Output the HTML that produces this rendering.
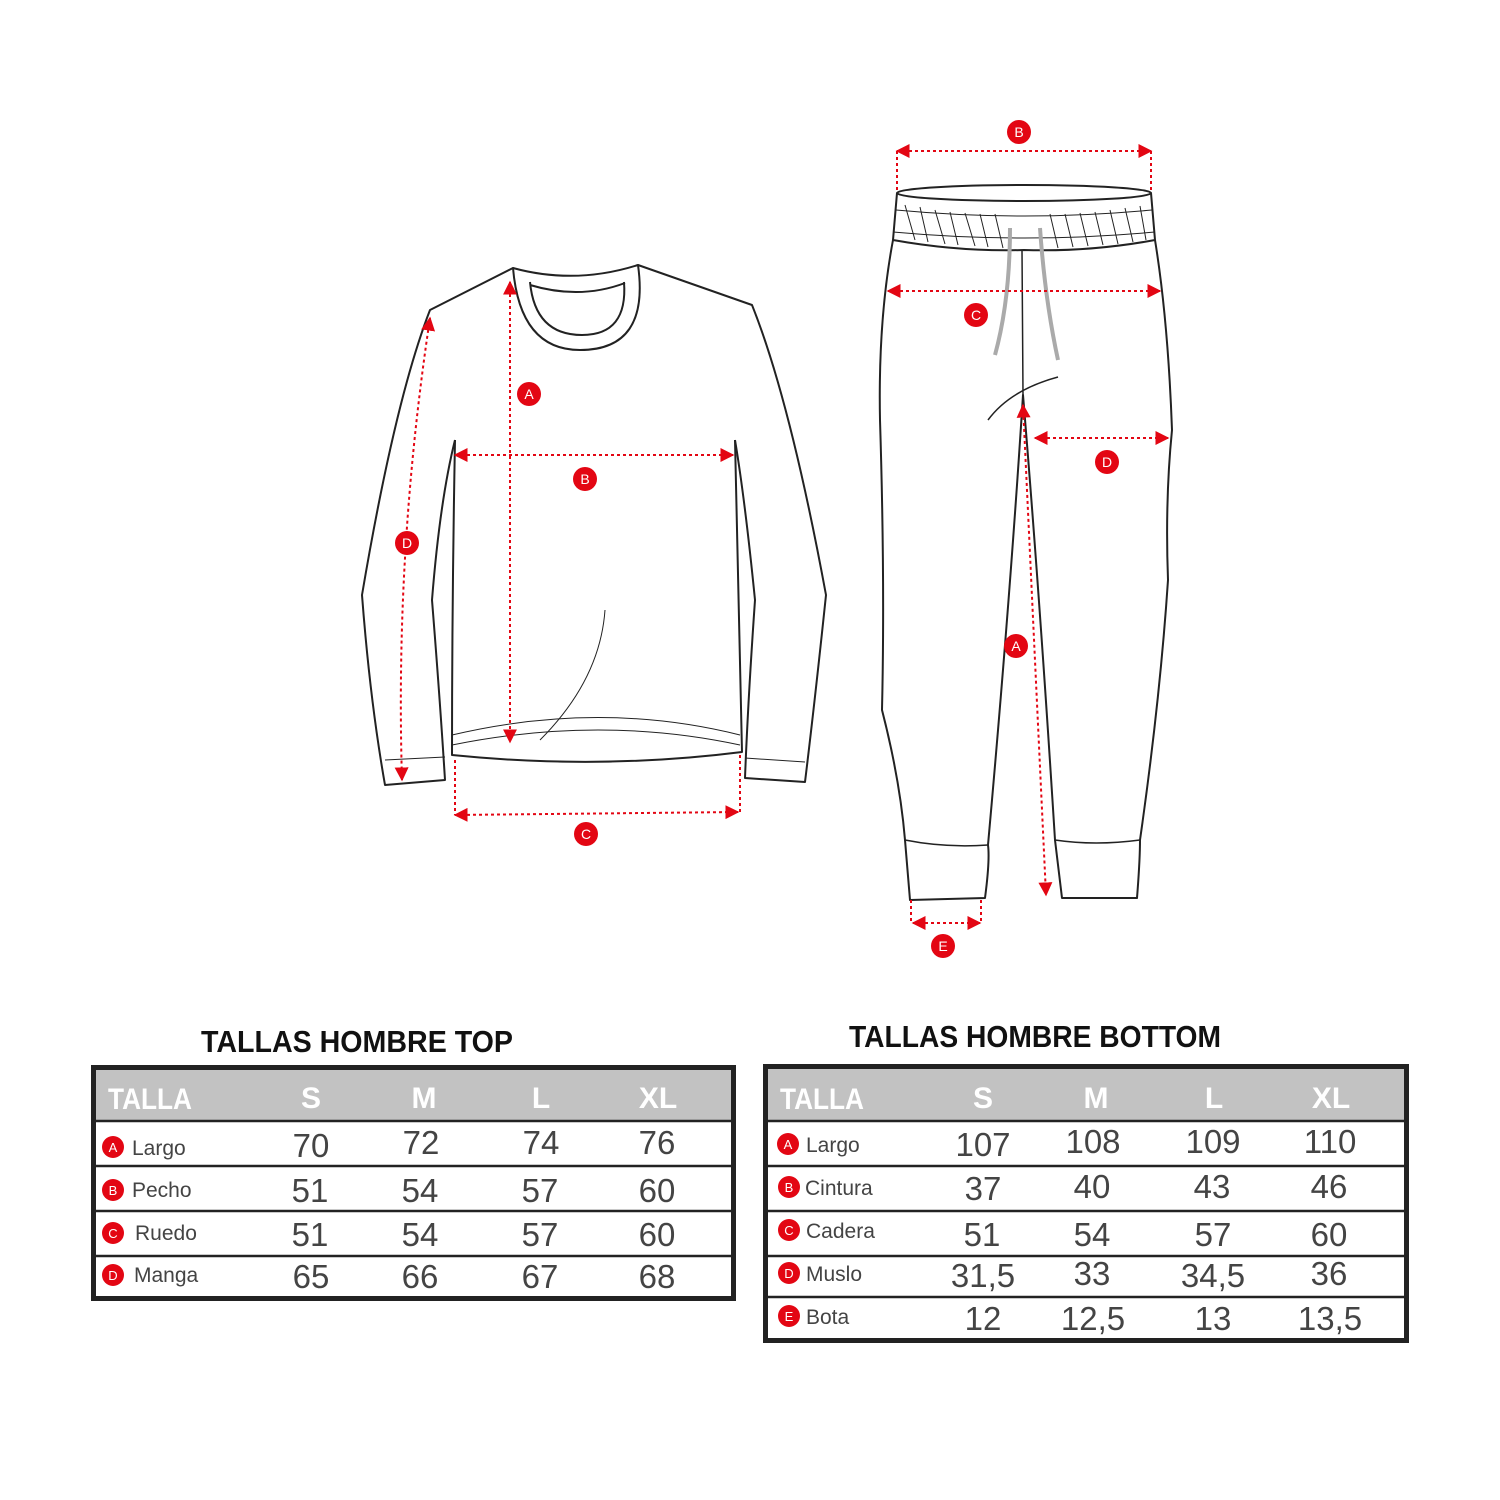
<!DOCTYPE html>
<html><head><meta charset="utf-8"><style>
html,body{margin:0;padding:0;background:#fff}
svg{display:block}
text{font-family:"Liberation Sans",sans-serif}
</style></head><body>
<svg width="1500" height="1500" viewBox="0 0 1500 1500" xmlns="http://www.w3.org/2000/svg">
<defs>
<marker id="ar" viewBox="0 0 10 10" refX="9" refY="5" markerWidth="7" markerHeight="7" orient="auto-start-reverse"><path d="M0,0 L10,5 L0,10 z" fill="#e30613"/></marker>
</defs>
<g fill="none" stroke="#222" stroke-width="2" stroke-linejoin="round">
<path d="M513,268 L430,310 Q395,400 362,595 Q370,700 385,785 L445,780 Q440,700 432,600 Q440,500 455,440"/>
<path d="M638,265 L752,305 Q790,400 826,595 Q815,700 805,782 L745,778 Q748,700 755,600 Q745,500 735,440"/>
<path d="M455,440 Q452,600 452,755 Q600,770 742,752 Q738,600 735,440"/>
<path d="M513,268 Q520,350 580,350 Q650,350 638,265 Q575,285 513,268 Z"/>
<path d="M530,282 Q535,335 582,335 Q628,335 624,282"/>
<path d="M530,285 Q580,300 625,283" />
<path d="M452,735 Q600,700 740,735" stroke-width="1"/>
<path d="M452,745 Q600,715 740,745" stroke-width="1"/>
<path d="M385,760 L445,757 M745,758 L805,762" stroke-width="1"/>
<path d="M605,610 Q600,680 540,740" stroke-width="1"/>
<ellipse cx="1024" cy="193" rx="127" ry="8"/>
<path d="M897,193 L893,240 Q960,252 1024,250 Q1090,252 1155,240 L1151,193"/>
<path d="M896,210 Q1024,222 1152,210" stroke-width="1"/>
<path d="M893,232 Q1024,244 1155,232" stroke-width="1"/>
<path d="M905,205 L915,240 M920,207 L928,242 M935,210 L945,244 M950,212 L958,245 M965,213 L975,246 M980,214 L988,247 M995,214 L1003,248 M1050,214 L1058,248 M1065,214 L1073,247 M1080,213 L1088,246 M1095,212 L1103,245 M1110,210 L1118,244 M1125,208 L1133,242 M1140,206 L1146,240" stroke-width="1"/>
<path d="M893,240 Q878,320 880,420 Q885,580 882,710 Q900,780 905,840 L910,900 L985,898 Q990,860 988,845 Q1010,600 1023,395 Q1040,600 1055,840 L1062,898 L1137,898 Q1140,860 1140,840 Q1160,700 1168,580 Q1165,500 1172,430 Q1168,320 1155,240"/>
<path d="M905,840 Q945,848 988,845 M1055,840 Q1095,846 1140,840" stroke-width="1.5"/>
<path d="M1022,250 L1023,395 M988,420 Q1010,390 1058,377" stroke-width="1.5"/>
</g>
<path d="M1010,228 Q1010,300 995,355 M1040,228 Q1045,300 1058,360" fill="none" stroke="#aaa" stroke-width="4"/>
<g fill="none" stroke="#e30613" stroke-width="2" stroke-dasharray="3,3">
<path d="M510,282 L510,742" marker-start="url(#ar)" marker-end="url(#ar)"/>
<path d="M455,455 L733,455" marker-start="url(#ar)" marker-end="url(#ar)"/>
<path d="M455,815 L738,812" marker-start="url(#ar)" marker-end="url(#ar)"/>
<path d="M455,760 L455,815 M740,755 L740,812"/>
<path d="M430,318 Q395,550 402,780" marker-start="url(#ar)" marker-end="url(#ar)"/>
<path d="M897,151 L1151,151" marker-start="url(#ar)" marker-end="url(#ar)"/>
<path d="M897,151 L897,190 M1151,151 L1151,190"/>
<path d="M888,291 L1160,291" marker-start="url(#ar)" marker-end="url(#ar)"/>
<path d="M1035,438 L1168,438" marker-start="url(#ar)" marker-end="url(#ar)"/>
<path d="M1023,405 L1046,895" marker-start="url(#ar)" marker-end="url(#ar)"/>
<path d="M913,923 L980,923" marker-start="url(#ar)" marker-end="url(#ar)"/>
<path d="M911,900 L911,923 M981,900 L981,923"/>
</g>
<g font-size="14" text-anchor="middle" fill="#fff">
<circle cx="529" cy="394" r="12" fill="#e30613"/><text x="529" y="399">A</text>
<circle cx="585" cy="479" r="12" fill="#e30613"/><text x="585" y="484">B</text>
<circle cx="586" cy="834" r="12" fill="#e30613"/><text x="586" y="839">C</text>
<circle cx="407" cy="543" r="12" fill="#e30613"/><text x="407" y="548">D</text>
<circle cx="1019" cy="132" r="12" fill="#e30613"/><text x="1019" y="137">B</text>
<circle cx="976" cy="315" r="12" fill="#e30613"/><text x="976" y="320">C</text>
<circle cx="1107" cy="462" r="12" fill="#e30613"/><text x="1107" y="467">D</text>
<circle cx="1016" cy="646" r="12" fill="#e30613"/><text x="1016" y="651">A</text>
<circle cx="943" cy="946" r="12" fill="#e30613"/><text x="943" y="951">E</text>
</g>
<text x="357" y="1052" font-size="31" font-weight="bold" text-anchor="middle" fill="#111" textLength="312" lengthAdjust="spacingAndGlyphs">TALLAS HOMBRE TOP</text>
<rect x="93.5" y="1067.5" width="640" height="231" fill="#fff" stroke="#222" stroke-width="5"/>
<rect x="96" y="1070" width="635" height="50" fill="#c2c2c2"/>
<g stroke="#222" stroke-width="2.5"><line x1="96" y1="1121" x2="731" y2="1121"/><line x1="96" y1="1166" x2="731" y2="1166"/><line x1="96" y1="1211" x2="731" y2="1211"/><line x1="96" y1="1256" x2="731" y2="1256"/></g>
<g font-size="30" font-weight="bold" fill="#fff" text-anchor="middle">
<text x="150" y="1109" textLength="84" lengthAdjust="spacingAndGlyphs">TALLA</text><text x="311" y="1108">S</text><text x="424" y="1108">M</text><text x="541" y="1108">L</text><text x="658" y="1108">XL</text></g>
<g font-size="33" fill="#444" text-anchor="middle">
<text x="311" y="1157">70</text><text x="421" y="1154">72</text><text x="541" y="1154">74</text><text x="657" y="1154">76</text>
<text x="310" y="1202">51</text><text x="420" y="1202">54</text><text x="540" y="1202">57</text><text x="657" y="1202">60</text>
<text x="310" y="1246">51</text><text x="420" y="1246">54</text><text x="540" y="1246">57</text><text x="657" y="1246">60</text>
<text x="311" y="1288">65</text><text x="420" y="1288">66</text><text x="540" y="1288">67</text><text x="657" y="1288">68</text></g>
<g font-size="21" fill="#444"><text x="132" y="1155">Largo</text><text x="132" y="1197">Pecho</text><text x="135" y="1240">Ruedo</text><text x="134" y="1282">Manga</text></g>
<g font-size="13" fill="#fff" text-anchor="middle">
<circle cx="113" cy="1147" r="11" fill="#e30613"/><text x="113" y="1152">A</text>
<circle cx="113" cy="1190" r="11" fill="#e30613"/><text x="113" y="1195">B</text>
<circle cx="113" cy="1233" r="11" fill="#e30613"/><text x="113" y="1238">C</text>
<circle cx="113" cy="1275" r="11" fill="#e30613"/><text x="113" y="1280">D</text></g>
<text x="1035" y="1047" font-size="31" font-weight="bold" text-anchor="middle" fill="#111" textLength="372" lengthAdjust="spacingAndGlyphs">TALLAS HOMBRE BOTTOM</text>
<rect x="765.5" y="1066.5" width="641" height="274" fill="#fff" stroke="#222" stroke-width="5"/>
<rect x="768" y="1069" width="636" height="51" fill="#c2c2c2"/>
<g stroke="#222" stroke-width="2.5"><line x1="768" y1="1121" x2="1404" y2="1121"/><line x1="768" y1="1166" x2="1404" y2="1166"/><line x1="768" y1="1211" x2="1404" y2="1211"/><line x1="768" y1="1256" x2="1404" y2="1256"/><line x1="768" y1="1297" x2="1404" y2="1297"/></g>
<g font-size="30" font-weight="bold" fill="#fff" text-anchor="middle">
<text x="822" y="1109" textLength="84" lengthAdjust="spacingAndGlyphs">TALLA</text><text x="983" y="1108">S</text><text x="1096" y="1108">M</text><text x="1214" y="1108">L</text><text x="1331" y="1108">XL</text></g>
<g font-size="33" fill="#444" text-anchor="middle">
<text x="983" y="1156">107</text><text x="1093" y="1153">108</text><text x="1213" y="1153">109</text><text x="1330" y="1153">110</text>
<text x="983" y="1200">37</text><text x="1092" y="1198">40</text><text x="1212" y="1198">43</text><text x="1329" y="1198">46</text>
<text x="982" y="1246">51</text><text x="1092" y="1246">54</text><text x="1213" y="1246">57</text><text x="1329" y="1246">60</text>
<text x="983" y="1287">31,5</text><text x="1092" y="1285">33</text><text x="1213" y="1287">34,5</text><text x="1329" y="1285">36</text>
<text x="983" y="1330">12</text><text x="1093" y="1330">12,5</text><text x="1213" y="1330">13</text><text x="1330" y="1330">13,5</text></g>
<g font-size="21" fill="#444"><text x="806" y="1152">Largo</text><text x="805" y="1195">Cintura</text><text x="806" y="1238">Cadera</text><text x="806" y="1281">Muslo</text><text x="806" y="1324">Bota</text></g>
<g font-size="13" fill="#fff" text-anchor="middle">
<circle cx="788" cy="1144" r="11" fill="#e30613"/><text x="788" y="1149">A</text>
<circle cx="789" cy="1187" r="11" fill="#e30613"/><text x="789" y="1192">B</text>
<circle cx="789" cy="1230" r="11" fill="#e30613"/><text x="789" y="1235">C</text>
<circle cx="789" cy="1273" r="11" fill="#e30613"/><text x="789" y="1278">D</text>
<circle cx="789" cy="1316" r="11" fill="#e30613"/><text x="789" y="1321">E</text></g>
</svg>
</body></html>
